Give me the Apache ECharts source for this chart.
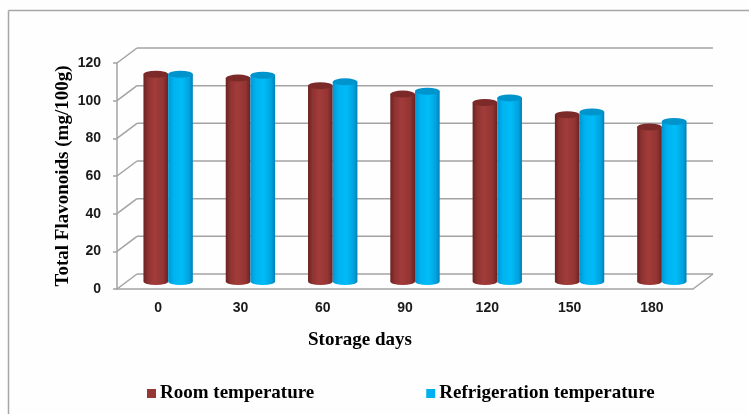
<!DOCTYPE html>
<html>
<head>
<meta charset="utf-8">
<script src="https://cdn.jsdelivr.net/npm/echarts@6/dist/echarts.min.js"></script>
<style>
  html, body { margin: 0; padding: 0; background: #fefefe; }
  #chart { width: 749px; height: 414px; }
</style>
</head>
<body>
<div id="chart"></div>
<script>
// Storage days on the category axis
const days = ['0', '30', '60', '90', '120', '150', '180'];
// Total flavonoids (mg/100g) per storage condition
const roomTemp = [110, 108, 104, 99.5, 95, 88.5, 82];
const fridgeTemp = [110, 109.5, 106, 101, 97.5, 90, 85];
// Value axis range and step
const yMin = 0, yMax = 120, yStep = 20;
const wallTicks = [0, 20, 40, 60, 80, 100, 120];

// Oblique depth of the pseudo-3D box (back wall offset from the front plane)
const DX = 20, DY = -15;

function cylinder(side, bodyStops, topColor) {
  return function (params, api) {
    const cat = api.value(0);
    const v = api.value(1);
    const top = api.coord([cat, v]);
    const base = api.coord([cat, 0]);
    const band = api.size([1, 0])[0];
    const w = band * 0.3;
    const cx = top[0] + side * w / 2 + DX / 2;
    const ty = top[1] + DY / 2;
    const by = base[1] + DY / 2;
    const rx = w / 2, ry = 3.5;
    const l = cx - rx, r = cx + rx;
    return {
      type: 'group',
      children: [
        {
          type: 'path',
          shape: {
            pathData: `M${l} ${ty} L${l} ${by} A${rx} ${ry} 0 0 0 ${r} ${by} L${r} ${ty} Z`
          },
          style: {
            fill: { type: 'linear', x: 0, y: 0, x2: 1, y2: 0, colorStops: bodyStops },
            stroke: null
          }
        },
        {
          type: 'path',
          shape: {
            pathData: `M${l} ${ty} A${rx} ${ry} 0 0 0 ${r} ${ty} A${rx} ${ry} 0 0 0 ${l} ${ty} Z`
          },
          style: { fill: topColor, stroke: null }
        }
      ]
    };
  };
}

const redStops = [
  { offset: 0, color: '#6a2221' },
  { offset: 0.18, color: '#8e3331' },
  { offset: 0.45, color: '#a23c3a' },
  { offset: 0.8, color: '#933533' },
  { offset: 1, color: '#6a2221' }
];
const blueStops = [
  { offset: 0, color: '#0098d4' },
  { offset: 0.22, color: '#00b2f0' },
  { offset: 0.55, color: '#00bcf7' },
  { offset: 0.85, color: '#00a2de' },
  { offset: 1, color: '#0080b6' }
];

function wallLines(params, api) {
  const v = api.value(1);
  const y = api.coord([0, v])[1];
  const cs = params.coordSys;
  const x0 = cs.x, x1 = cs.x + cs.width;
  const st = { stroke: '#a3a3a3', lineWidth: 1.5 };
  const kids = [
    { type: 'line', shape: { x1: x0, y1: y, x2: x0 + DX, y2: y + DY }, style: st },
    { type: 'line', shape: { x1: x0 + DX, y1: y + DY, x2: x1 + DX, y2: y + DY }, style: st }
  ];
  if (v === 0) {
    kids.push({ type: 'line', shape: { x1: x1, y1: y, x2: x1 + DX, y2: y + DY }, style: st });
  }
  return { type: 'group', children: kids };
}

const chart = echarts.init(document.getElementById('chart'));
const labelFont = { fontFamily: 'Liberation Sans', fontWeight: 'bold', fontSize: 14, color: '#1a1a1a' };
const titleFont = { fontFamily: 'Liberation Serif', fontWeight: 'bold', fontSize: 19, color: '#000' };

chart.setOption({
  backgroundColor: '#fefefe',
  animation: false,
  grid: { left: 117, right: 56, top: 63, bottom: 125 },
  xAxis: {
    type: 'category',
    data: days,
    axisLine: { show: true, lineStyle: { color: '#a3a3a3', width: 1.5 } },
    axisTick: { show: false },
    axisLabel: Object.assign({ margin: 12 }, labelFont),
    splitLine: { show: false }
  },
  yAxis: {
    type: 'value',
    min: yMin, max: yMax, interval: yStep,
    name: 'Total Flavonoids (mg/100g)',
    nameLocation: 'middle',
    nameRotate: 90,
    nameGap: 44,
    nameMoveOverlap: false,
    nameTextStyle: titleFont,
    axisLine: { show: true, lineStyle: { color: '#a3a3a3', width: 1.5 } },
    axisTick: { show: true, length: 4, lineStyle: { color: '#a3a3a3', width: 1.5 } },
    axisLabel: Object.assign({ margin: 16 }, labelFont),
    splitLine: { show: false }
  },
  legend: {
    left: 142, top: 379,
    itemWidth: 9, itemHeight: 9, itemGap: 112,
    icon: 'rect',
    textStyle: Object.assign({ padding: [0, 0, 0, -1] }, titleFont),
    data: [
      { name: 'Room temperature', itemStyle: { color: '#953735' } },
      { name: 'Refrigeration temperature', itemStyle: { color: '#00b0f0' } }
    ]
  },
  graphic: [
    { type: 'line', shape: { x1: 8.5, y1: 10.5, x2: 749, y2: 10.5 }, style: { stroke: '#a6a6a6', lineWidth: 1.5 } },
    { type: 'line', shape: { x1: 8.5, y1: 10.5, x2: 8.5, y2: 414 }, style: { stroke: '#a6a6a6', lineWidth: 1.5 } },
    {
      type: 'text', left: 308, top: 331,
      style: { text: 'Storage days', font: 'bold 19px "Liberation Serif"', fill: '#000' }
    }
  ],
  series: [
    {
      name: 'walls', type: 'custom', silent: true, z: 1,
      data: wallTicks.map(t => [0, t]),
      renderItem: wallLines
    },
    {
      name: 'Room temperature', type: 'custom', z: 3,
      itemStyle: { color: '#953735' },
      data: roomTemp.map((v, i) => [i, v]),
      renderItem: cylinder(-1, redStops, '#7c2a29')
    },
    {
      name: 'Refrigeration temperature', type: 'custom', z: 3,
      itemStyle: { color: '#00b0f0' },
      data: fridgeTemp.map((v, i) => [i, v]),
      renderItem: cylinder(1, blueStops, '#0094cc')
    }
  ]
});
</script>
</body>
</html>
